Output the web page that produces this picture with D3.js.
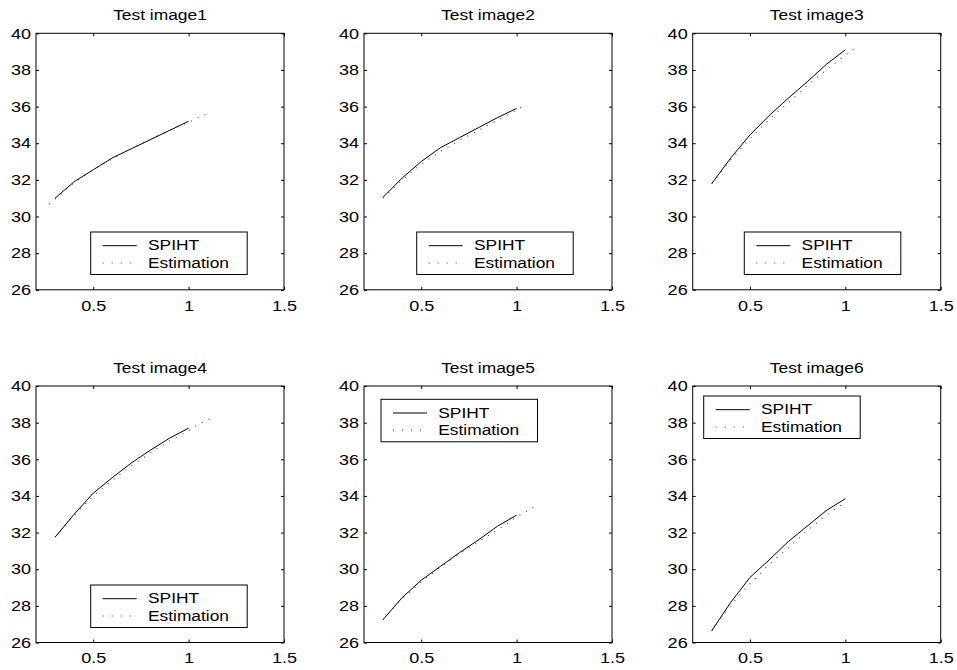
<!DOCTYPE html>
<html><head><meta charset="utf-8">
<script src="https://cdn.jsdelivr.net/npm/d3@7"></script>
<style>body{margin:0;background:#fff} text{font-family:"Liberation Sans",Arial,Helvetica,sans-serif;fill:#000}</style>
</head><body><svg id="c" width="957" height="670"></svg>
<script>
// ---- data ----
const titles = ["Test image1","Test image2","Test image3","Test image4","Test image5","Test image6"];
const seriesNames = ["SPIHT","Estimation"];
const xTicks = [0.5, 1, 1.5];
const yTicks = [26, 28, 30, 32, 34, 36, 38, 40];
const spihtX = [0.3, 0.4, 0.5, 0.6, 0.7, 0.8, 0.9, 1.0];
const spiht1 = [31.0, 31.9, 32.55, 33.2, 33.7, 34.2, 34.7, 35.2];
const spiht2 = [31.05, 32.1, 33.0, 33.75, 34.3, 34.85, 35.4, 35.9];
const spiht3 = [31.8, 33.2, 34.45, 35.5, 36.45, 37.35, 38.3, 39.1];
const spiht4 = [31.75, 33.0, 34.15, 35.0, 35.8, 36.5, 37.15, 37.7];
const spiht5 = [27.25, 28.45, 29.4, 30.15, 30.9, 31.6, 32.35, 32.95];
const spiht6 = [26.65, 28.2, 29.55, 30.5, 31.5, 32.35, 33.2, 33.85];
const est1X = [0.27, 0.3, 0.4, 0.5, 0.6, 0.7, 0.8, 0.9, 1.0, 1.1];
const est1  = [30.68, 30.95, 31.85, 32.55, 33.15, 33.7, 34.2, 34.7, 35.15, 35.65];
const est2X = [0.3, 0.4, 0.5, 0.6, 0.7, 0.8, 0.9, 1.0, 1.04];
const est2  = [31.0, 32.0, 32.85, 33.55, 34.15, 34.7, 35.25, 35.8, 36.05];
const est3X = [0.3, 0.4, 0.5, 0.6, 0.7, 0.8, 0.9, 1.0, 1.07];
const est3  = [31.8, 33.1, 34.25, 35.3, 36.2, 37.15, 38.0, 38.8, 39.35];
const est4X = [0.3, 0.4, 0.5, 0.6, 0.7, 0.8, 0.9, 1.0, 1.05, 1.14];
const est4  = [31.75, 32.95, 34.0, 34.85, 35.65, 36.35, 37.0, 37.55, 37.9, 38.35];
const est5X = [0.3, 0.4, 0.5, 0.6, 0.7, 0.8, 0.9, 1.0, 1.05, 1.09];
const est5  = [27.25, 28.4, 29.3, 30.1, 30.85, 31.5, 32.15, 32.85, 33.15, 33.4];
const est6X = [0.3, 0.4, 0.5, 0.6, 0.7, 0.8, 0.9, 1.0];
const est6  = [26.65, 28.05, 29.2, 30.25, 31.15, 32.1, 32.95, 33.65];

const spihtY = [spiht1, spiht2, spiht3, spiht4, spiht5, spiht6];
const estXs = [est1X, est2X, est3X, est4X, est5X, est6X];
const estYs = [est1, est2, est3, est4, est5, est6];

// ---- layout ----
const W = 957, H = 670;
const colLeft = [36, 364, 692.7];
const rowTop = [33.3, 386];
const pw = 248, ph = 256.5;
const legendPos = [[54.7,198.7],[52.7,198.7],[51.6,198.7],[54.7,199],[17,13.3],[11,10]];
const legW = 156.5, legH = 42.5;
const tickFont = 14.8, titleFont = 14.5, legFont = 15.5;
const tickSX = 1.22, titleSX = 1.2, legSX = 1.12;

const svg = d3.select("#c");
svg.append("rect").attr("width", W).attr("height", H).attr("fill", "#fff");

function stretchText(sel, sx) {
  sel.each(function () {
    const t = d3.select(this);
    const x = +t.attr("x") || 0;
    t.attr("x", 0).attr("transform", `translate(${x},0) scale(${sx},1)`);
  });
}

for (let i = 0; i < 6; i++) {
  const r = Math.floor(i / 3), c = i % 3;
  const g = svg.append("g").attr("transform", `translate(${colLeft[c]},${rowTop[r]})`);
  const x = d3.scaleLinear().domain([0.2, 1.5]).range([0, pw]);
  const y = d3.scaleLinear().domain([26, 40]).range([ph, 0]);

  // axes
  const ax = g.append("g").attr("transform", `translate(0,${ph})`)
    .call(d3.axisBottom(x).tickValues(xTicks).tickFormat(d3.format("")).tickSizeInner(-3).tickSizeOuter(0).tickPadding(10.5));
  const ay = g.append("g")
    .call(d3.axisLeft(y).tickValues(yTicks).tickFormat(d3.format("d")).tickSizeInner(-3).tickSizeOuter(0).tickPadding(5));
  g.append("g").attr("transform", `translate(${pw},0)`)
    .call(d3.axisRight(y).tickValues(yTicks).tickFormat("").tickSizeInner(-3).tickSizeOuter(0));
  g.append("g")
    .call(d3.axisTop(x).tickValues(xTicks).tickFormat("").tickSizeInner(-3).tickSizeOuter(0));
  g.selectAll(".domain").remove();
  g.selectAll(".tick line").attr("stroke", "#000");
  g.selectAll(".tick text").attr("font-size", tickFont).attr("font-family", null).attr("fill", "#000");
  stretchText(ax.selectAll(".tick text"), tickSX);
  stretchText(ay.selectAll(".tick text"), tickSX);

  g.append("rect").attr("width", pw).attr("height", ph)
    .attr("fill", "none").attr("stroke", "#000").attr("stroke-width", 1);

  // title
  g.append("text").attr("x", pw / 2).attr("y", -13)
    .attr("text-anchor", "middle").attr("font-size", titleFont).text(titles[i])
    .call(s => stretchText(s, titleSX));

  const line = d3.line().x(d => x(d[0])).y(d => y(d[1]));
  const sData = spihtX.map((v, k) => [v, spihtY[i][k]]);
  const eData = estXs[i].map((v, k) => [v, estYs[i][k]]);
  g.append("path").attr("d", line(eData)).attr("fill", "none")
    .attr("stroke", "#444").attr("stroke-width", 1.1).attr("stroke-dasharray", "1,6.5");
  g.append("path").attr("d", line(sData)).attr("fill", "none")
    .attr("stroke", "#000").attr("stroke-width", 1);

  // legend
  const [lx, ly] = legendPos[i];
  const lg = g.append("g").attr("transform", `translate(${lx},${ly})`);
  lg.append("rect").attr("width", legW).attr("height", legH)
    .attr("fill", "#fff").attr("stroke", "#000").attr("stroke-width", 1);
  lg.append("line").attr("x1", 12).attr("x2", 46).attr("y1", 13.7).attr("y2", 13.7)
    .attr("stroke", "#000").attr("stroke-width", 1);
  lg.append("line").attr("x1", 12).attr("x2", 46).attr("y1", 31).attr("y2", 31)
    .attr("stroke", "#444").attr("stroke-width", 1.1).attr("stroke-dasharray", "1,8");
  lg.append("text").attr("x", 57.3).attr("y", 18.5).attr("font-size", legFont).text(seriesNames[0])
    .call(s => stretchText(s, legSX));
  lg.append("text").attr("x", 57.3).attr("y", 36).attr("font-size", legFont).text(seriesNames[1])
    .call(s => stretchText(s, legSX));
}
</script></body></html>
